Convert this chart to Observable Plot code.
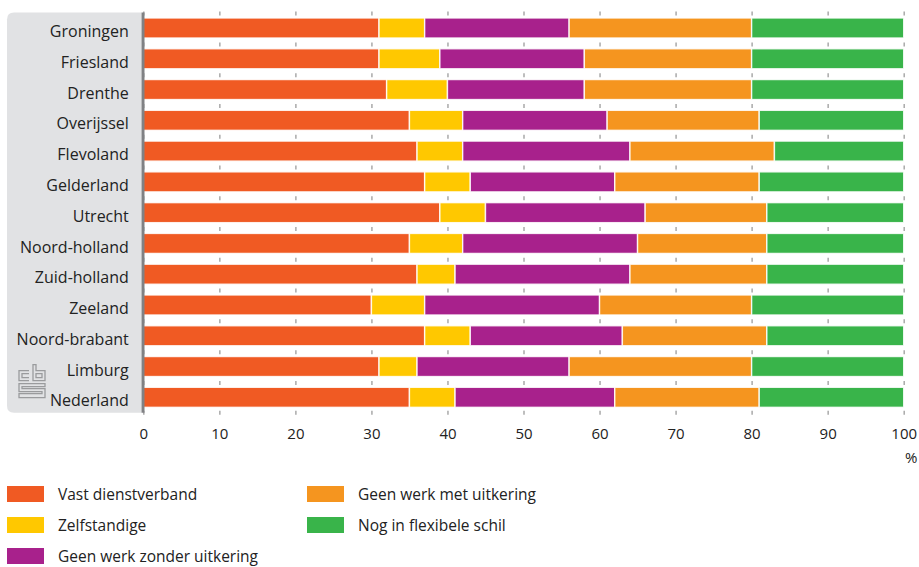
<!DOCTYPE html>
<html>
<head>
<meta charset="utf-8">
<script src="https://cdn.jsdelivr.net/npm/d3@7"></script>
<script src="https://cdn.jsdelivr.net/npm/@observablehq/plot@0.6"></script>
<style>
  html, body { margin: 0; padding: 0; background: #fff; }
  body { width: 919px; height: 567px; overflow: hidden; font-family: "Open Sans", "DejaVu Sans", sans-serif; color: #222; }
  #legend {
    display: grid;
    grid-auto-flow: column;
    grid-template-rows: repeat(3, 31px);
    grid-template-columns: 300px auto;
    margin: 3px 0 0 7px;
  }
  .item { display: flex; align-items: center; font-size: 15.5px; color: #222; }
  .swatch { width: 37px; height: 16px; margin-right: 14px; flex: none; }
</style>
</head>
<body>
<div id="chart"></div>
<div id="legend"></div>
<script>
// Provinces (top to bottom) and the share of each labour-market outcome, in %
const regions = ["Groningen", "Friesland", "Drenthe", "Overijssel", "Flevoland", "Gelderland", "Utrecht",
  "Noord-holland", "Zuid-holland", "Zeeland", "Noord-brabant", "Limburg", "Nederland"];
const series = ["Vast dienstverband", "Zelfstandige", "Geen werk zonder uitkering",
  "Geen werk met uitkering", "Nog in flexibele schil"];
const colors = ["#f05a23", "#ffc800", "#a8218c", "#f5951f", "#39b44a"];

const vastDienstverband      = [31, 31, 32, 35, 36, 37, 39, 35, 36, 30, 37, 31, 35];
const zelfstandige           = [ 6,  8,  8,  7,  6,  6,  6,  7,  5,  7,  6,  5,  6];
const geenWerkZonderUitk     = [19, 19, 18, 19, 22, 19, 21, 23, 23, 23, 20, 20, 21];
const geenWerkMetUitk        = [24, 22, 22, 20, 19, 19, 16, 17, 18, 20, 19, 24, 19];
const flexibeleSchil         = [20, 20, 20, 19, 17, 19, 18, 18, 18, 20, 18, 20, 19];

const xTicks = [0, 10, 20, 30, 40, 50, 60, 70, 80, 90, 100];
const unitLabel = "%";

const seriesValues = [vastDienstverband, zelfstandige, geenWerkZonderUitk, geenWerkMetUitk, flexibeleSchil];
const rows = [];
regions.forEach((r, i) => series.forEach((s, j) => rows.push({region: r, series: s, value: seriesValues[j][i]})));
const tickRows = regions.flatMap(r => xTicks.map(v => ({region: r, v})));
const lastRows = xTicks.map(v => ({region: regions[regions.length - 1], v}));

const width = 919, height = 475;
const marginTop = 12.6, marginBottom = 62.3, marginLeft = 143.3, marginRight = 15.3;
const padInner = 0.35, padOuter = 0.175;
const step = (height - marginBottom - marginTop) / (regions.length - padInner + 2 * padOuter);
const band = step * (1 - padInner);
const tickLen = 4;
const font = "'Open Sans', 'DejaVu Sans', sans-serif";

const plot = Plot.plot({
  width, height, marginTop, marginBottom, marginLeft, marginRight,
  style: {fontFamily: font, fontSize: "15px", color: "#222", background: "transparent", overflow: "visible"},
  x: {domain: [0, 100]},
  y: {domain: regions, paddingInner: padInner, paddingOuter: padOuter, round: false},
  color: {domain: series, range: colors},
  marks: [
    Plot.tickX(tickRows, {x: "v", y: "region", dy: -step / 2 + 1, insetTop: (band - tickLen) / 2, insetBottom: (band - tickLen) / 2, stroke: "#a9a9a9", strokeWidth: 1.5}),
    Plot.tickX(lastRows, {x: "v", y: "region", dy: step / 2, insetTop: (band - tickLen) / 2, insetBottom: (band - tickLen) / 2, stroke: "#a9a9a9", strokeWidth: 1.5}),
    Plot.barX(rows, Plot.stackX({x: "value", y: "region", fill: "series", order: series, stroke: "#fff", strokeWidth: 1.4, strokeOpacity: 0.85})),
    Plot.ruleX([0], {stroke: "#808184", strokeWidth: 3, dx: -0.8}),
    Plot.axisY({tickSize: 0, tickPadding: 15, fontSize: 16, dy: 3.5, label: null}),
    Plot.axisX({ticks: xTicks, tickSize: 0, tickPadding: 15, fontSize: 15, label: null}),
    Plot.text([unitLabel], {frameAnchor: "bottom-right", textAnchor: "middle", dx: 7, dy: 50, fontSize: 15, fill: "#222"})
  ]
});

// Grey label panel with the logo, behind the region names
const svg = d3.select(plot);
const yr = plot.scale("y").range;
const x0 = marginLeft - 2;
const panel = svg.insert("g", ":first-child");
panel.append("path")
  .attr("fill", "#e1e2e4")
  .attr("d", `M${x0},${yr[0]} H${7 + 7} Q7,${yr[0]} 7,${yr[0] + 7} V${yr[1] - 7} Q7,${yr[1]} ${7 + 7},${yr[1]} H${x0} Z`);
const logo = panel.append("g")
  .attr("transform", `translate(18,${yr[1] - 48})`)
  .attr("fill", "none").attr("stroke", "#9a9b9d").attr("stroke-width", 1.3);
logo.append("path").attr("d", "M11,6 H1 V16 H11 M11,9 H4 V13 H11");
logo.append("path").attr("d", "M15,0 V16 H27 V6 H18 V0 Z M18,9 H24 V13 H18 Z");
logo.append("path").attr("d", "M27,19 H1 V27 H24 V29 H1 V33 H27 V24 H4 V22 H27 Z");

document.getElementById("chart").appendChild(plot);

// Legend
const legend = d3.select("#legend");
series.forEach((s, i) => {
  const item = legend.append("div").attr("class", "item");
  item.append("div").attr("class", "swatch").style("background", colors[i]);
  item.append("span").text(s);
});
</script>
</body>
</html>
